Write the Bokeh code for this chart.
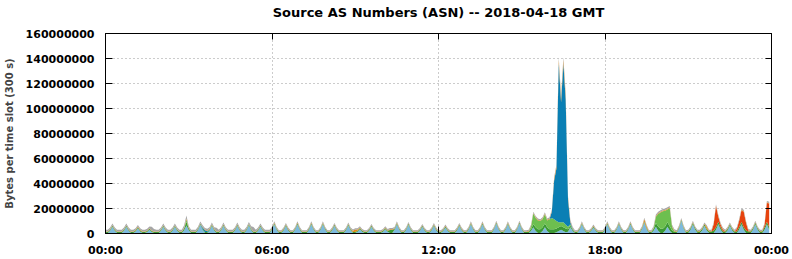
from bokeh.plotting import figure
from bokeh.models import ColumnDataSource, FixedTicker, LinearAxis, BasicTickFormatter, Range1d
from bokeh.embed import file_html
from bokeh.resources import INLINE

# ---- data: 5-minute slots over 2018-04-18, values in millions of bytes ----
TITLE = "Source AS Numbers (ASN) -- 2018-04-18 GMT"
Y_LABEL = "Bytes per time slot (300 s)"
X_TICKS = [0, 6, 12, 18, 24]
X_TICK_LABELS = ["00:00", "06:00", "12:00", "18:00", "00:00"]
Y_TICKS = [0, 20000000, 40000000, 60000000, 80000000, 100000000, 120000000, 140000000, 160000000]
SLOT_MINUTES = 5

light_blue = [
    0.4, 0.4, 2.2, 5.4, 2.2, 0.4, 0.4, 0.4, 2.2, 5.4, 2.2, 0.4,
    0.4, 1.7, 4.3, 1.7, 0.4, 0.4, 1.2, 3.0, 1.2, 0.4, 0.4, 0.4,
    2.2, 5.4, 2.2, 0.4, 0.4, 2.2, 5.4, 2.2, 0.4, 0.4, 2.6, 6.5,
    2.6, 0.4, 0.4, 0.4, 2.8, 7.0, 2.8, 0.4, 0.4, 2.5, 6.2, 2.5,
    0.4, 0.4, 2.5, 6.2, 2.5, 0.4, 0.4, 0.4, 2.5, 6.2, 2.5, 0.4,
    0.4, 2.6, 6.6, 2.6, 0.4, 0.4, 2.2, 5.4, 2.2, 0.4, 0.4, 0.4,
    3.0, 7.5, 3.0, 0.4, 0.4, 2.5, 6.2, 2.5, 0.4, 0.4, 3.0, 7.5,
    3.0, 0.4, 0.4, 0.4, 3.0, 7.5, 3.0, 0.4, 0.4, 3.0, 7.5, 3.0,
    0.4, 0.4, 2.5, 6.2, 2.5, 0.4, 0.4, 0.4, 2.6, 6.6, 2.6, 0.4,
    0.4, 1.4, 3.5, 1.4, 0.4, 0.4, 2.2, 5.4, 2.2, 0.4, 0.4, 0.4,
    1.4, 3.5, 1.4, 0.4, 0.4, 3.0, 7.5, 3.0, 0.4, 0.4, 2.8, 7.0,
    2.8, 0.4, 0.4, 0.4, 2.2, 5.4, 2.2, 0.4, 0.4, 2.5, 6.2, 2.5,
    0.4, 0.4, 2.0, 4.9, 2.0, 0.4, 0.4, 0.4, 2.5, 6.2, 2.5, 0.4,
    0.4, 3.0, 7.5, 3.0, 0.4, 0.4, 3.0, 7.5, 3.0, 0.4, 0.4, 0.4,
    3.2, 8.0, 3.2, 0.4, 0.4, 3.0, 7.5, 3.0, 0.4, 0.4, 3.2, 8.0,
    3.2, 0.4, 0.4, 0.4, 2.0, 5.0, 2.0, 0.5, 0.5, 2.0, 5.0, 2.0,
    0.5, 0.5, 0.5, 1.0, 2.0, 3.0, 2.0, 1.0, 1.5, 5.0, 2.0, 0.4,
    0.4, 3.0, 7.5, 3.0, 0.4, 0.4, 2.0, 4.9, 2.0, 0.4, 0.4, 0.4,
    3.0, 7.5, 3.0, 0.4, 0.4, 3.0, 7.5, 3.0, 0.4, 0.4, 3.0, 7.5,
    3.0, 0.4, 0.4, 0.4, 3.5, 8.8, 3.5, 0.4, 0.4, 2.2, 5.5, 2.2,
    0.4, 0.4, 2.2, 5.5, 2.2, 0.4, 0.4, 0.4, 4.1, 10.2, 4.1, 0.4,
    0.4, 3.0, 7.5, 3.0, 0.4, 0.4, 2.5, 6.2, 2.5, 0.4, 0.4, 0.4,
    3.0, 7.5, 3.0, 0.4, 0.4, 2.5, 6.2, 2.5, 0.4, 0.4, 3.0, 7.5,
    3.0, 0.4, 0.4, 0.4, 3.0, 7.5, 3.0, 0.4, 0.4, 3.0, 7.5, 3.0,
]

dark_green = ([0.8] * 34 + [1.5, 3.0, 1.5] + [0.8] * 86 + [2.5, 2.5] + [0.8] * 59
              + [1.5, 2.5] + [3.0] * 14 + [2.0, 1.5, 1.0] + [0.8] * 34 + [1.5, 3.0]
              + [3.5] * 6 + [2.0, 1.0] + [0.8] * 5 + [1.2] * 11 + [2.0] * 4 + [1.2] * 7
              + [2.0] * 4 + [1.2] * 7 + [2.0] * 3)

light_green = ([0.0] * 35 + [1.5] + [0.0] * 147
               + [0.3, 2.0, 8.5, 7.5, 7.0, 6.5, 6.5, 7.5, 5.5, 8.0, 9.0,
                  8.0, 6.0, 4.0, 3.0, 4.0, 3.0, 2.0, 1.0, 0.5]
               + [0.0] * 34
               + [0.5, 5.0, 10.0, 13.0, 14.0, 12.6, 10.3, 14.6, 2.9, 0.5]
               + [0.0] * 41)

blue = ([0.0] * 42 + [1.2, 1.5, 0.8] + [0.0] * 148
        + [5.0, 31.0, 42.0, 127.0, 96.0, 127.0, 100.0, 22.0, 1.5, 0.5]
        + [0.0] * 85)

red = ([0.0] * 263 + [5.0, 17.0, 4.0, 2.0, 1.5] + [0.0] * 5
       + [2.0, 5.0, 9.0, 12.5, 6.0, 0.5] + [0.0] * 6 + [2.0, 15.0, 19.0])

orange = ([0.5] * 35 + [1.0] + [0.5] * 71 + [1.0, 2.0, 1.0] + [0.5] * 84
          + [1.5, 2.0, 3.0, 3.0, 3.0, 3.0, 1.5, 0.8] + [0.5] * 31 + [2.0, 1.5]
          + [0.5] * 25 + [2.0] + [0.5] * 27)

gray = ([1.3] * 20 + [3.0, 2.0] + [1.3] * 12 + [2.0, 2.5] + [1.3] * 12 + [3.0]
        + [1.3] * 14 + [2.0, 3.5] + [1.3] * 7 + [1.0] * 124 + [2.0] * 4
        + [1.0] * 37 + [1.2] * 9 + [1.0] * 42)

series_names = ["light_blue", "dark_green", "light_green", "blue", "red", "orange", "gray"]
series_values = [light_blue, dark_green, light_green, blue, red, orange, gray]
series_colors = ["#7db9dd", "#3d9a35", "#6dbf4f", "#0a7fb4", "#e6420e", "#e08c1c", "#a6a6a6"]

# ---- build ----
n = len(light_blue)
data = {"t": [i * SLOT_MINUTES / 60 for i in range(n)]}
for name, vals in zip(series_names, series_values):
    data[name] = [v * 1e6 for v in vals]
source = ColumnDataSource(data)

FONT = "DejaVu Sans"

p = figure(width=792, height=259, output_backend="svg", toolbar_location=None,
           x_range=Range1d(0, 24), y_range=Range1d(0, 160e6),
           min_border_left=100, min_border_right=21, min_border_top=33, min_border_bottom=25,
           background_fill_color="white", border_fill_color="white")
p.title.text = ""
p.title.standoff = 0

p.varea_stack(stackers=series_names, x="t", color=series_colors, source=source)

# outline
p.outline_line_color = "black"
p.outline_line_width = 1
p.outline_line_alpha = 1.0

# axes
xa = p.xaxis[0]
xa.ticker = FixedTicker(ticks=X_TICKS)
xa.major_label_overrides = {t: lbl for t, lbl in zip(X_TICKS, X_TICK_LABELS)}
ya = p.yaxis[0]
ya.ticker = FixedTicker(ticks=Y_TICKS)
ya.formatter = BasicTickFormatter(use_scientific=False)
ya.axis_label = Y_LABEL
ya.axis_label_text_font = FONT
ya.axis_label_text_font_size = "10px"
ya.axis_label_text_font_style = "bold"
ya.axis_label_standoff = 8

for ax in (xa, ya):
    ax.major_label_text_font = FONT
    ax.major_label_text_font_size = "11px"
    ax.major_label_text_font_style = "bold"
    ax.major_label_text_color = "black"
    ax.major_tick_out = 0
    ax.major_tick_in = 7
    ax.minor_tick_line_color = None
    ax.axis_line_color = "black"
    ax.major_tick_line_color = "black"
xa.major_label_standoff = 10
ya.major_label_standoff = 11

# mirrored tick axes (right and top), no tick labels; the top one carries the title
ra = LinearAxis(ticker=FixedTicker(ticks=Y_TICKS), major_label_text_font_size="0px",
                major_label_text_color=None,
                major_tick_in=6, major_tick_out=0, major_label_standoff=0,
                minor_tick_line_color=None, axis_line_color="black")
p.add_layout(ra, "right")
ta = LinearAxis(ticker=FixedTicker(ticks=[6, 12, 18]), major_label_text_font_size="0px",
                major_label_text_color=None,
                major_tick_in=6, major_tick_out=0, major_label_standoff=0,
                minor_tick_line_color=None, axis_line_color="black",
                axis_label=TITLE, axis_label_standoff=14,
                axis_label_text_font=FONT, axis_label_text_font_size="13px",
                axis_label_text_font_style="bold", axis_label_text_color="black")
p.add_layout(ta, "above")

# grid
p.xgrid.ticker = FixedTicker(ticks=[6, 12, 18])
p.ygrid.ticker = FixedTicker(ticks=Y_TICKS[1:-1])
for g in (p.xgrid[0], p.ygrid[0]):
    g.grid_line_color = "#999999"
    g.grid_line_dash = "1 3"
    g.grid_line_width = 1
    g.level = "underlay"

open("out.html", "w").write(file_html(p, INLINE))
